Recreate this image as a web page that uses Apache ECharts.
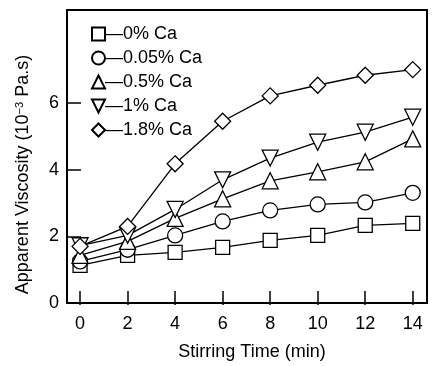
<!DOCTYPE html>
<html>
<head>
<meta charset="utf-8">
<script src="https://cdn.jsdelivr.net/npm/echarts@6/dist/echarts.min.js"></script>
<style>
  html, body { margin: 0; padding: 0; background: #fff; }
  #chart { width: 434px; height: 366px; }
</style>
</head>
<body>
<div id="chart"></div>
<script>
const FONT = '"Liberation Sans", Arial, sans-serif';

const stirTime = [0, 2, 4, 6, 8, 10, 12, 14];
const seriesNames = ["0% Ca", "0.05% Ca", "0.5% Ca", "1% Ca", "1.8% Ca"];
const ca0 = [1.13, 1.43, 1.52, 1.67, 1.88, 2.03, 2.33, 2.39];
const ca005 = [1.25, 1.6, 2.03, 2.45, 2.78, 2.96, 3.02, 3.31];
const ca05 = [1.43, 1.85, 2.54, 3.13, 3.67, 3.94, 4.24, 4.93];
const ca1 = [1.72, 2.03, 2.81, 3.7, 4.35, 4.83, 5.13, 5.58];
const ca18 = [1.7, 2.3, 4.18, 5.46, 6.22, 6.54, 6.84, 7.01];
const yTicks = [0, 2, 4, 6];
const xTicks = [0, 2, 4, 6, 8, 10, 12, 14];

const symbols = [
  "rect",
  "circle",
  "triangle",
  "path://M0,0L10,0L5,10Z",
  "diamond",
];
const symbolSizes = [14, 15, 16, 16, 16];
const values = [ca0, ca005, ca05, ca1, ca18];

const X_MIN = -0.55;
const X_MAX = 14.6;
const Y_MAX = 8.8;

// grid box: left 67, top 10, right edge 427, bottom edge 305
const GRID_W = 360;
const GRID_H = 295;

const frameLine = { show: true, onZero: false, lineStyle: { color: "#000", width: 2 } };
const tickStyle = { color: "#000", width: 1.5 };

const chart = echarts.init(document.getElementById("chart"));

chart.setOption({
  animation: false,
  backgroundColor: "#fff",
  grid: {
    left: 67,
    top: 10,
    right: 7,
    bottom: 61,
  },
  legend: {
    left: 86,
    top: 20,
    orient: "vertical",
    itemWidth: 13,
    itemHeight: 13,
    itemGap: 6,
    data: seriesNames.map((name, i) => ({ name, icon: symbols[i] })),
    formatter: (name) => "\u2014" + name,
    textStyle: { fontFamily: FONT, fontSize: 18, color: "#000", padding: [0, 0, 0, -5] },
  },
  xAxis: [
    {
      type: "value",
      position: "bottom",
      min: X_MIN,
      max: X_MAX,
      name: "Stirring Time (min)",
      nameLocation: "middle",
      nameGap: 40,
      nameTextStyle: { fontFamily: FONT, fontSize: 18, color: "#000", padding: [0, 0, 0, 10] },
      axisLine: frameLine,
      splitLine: { show: false },
      axisTick: {
        show: true,
        inside: true,
        length: 12,
        customValues: xTicks,
        lineStyle: tickStyle,
      },
      axisLabel: {
        customValues: xTicks,
        margin: 12,
        fontFamily: FONT,
        fontSize: 18,
        color: "#000",
      },
    },
    {
      type: "value",
      position: "top",
      min: X_MIN,
      max: X_MAX,
      axisLine: frameLine,
      axisTick: { show: false },
      axisLabel: { show: false },
      splitLine: { show: false },
    },
    {
      // tick-only axis sitting on the bottom edge, ticks pointing up into the plot
      type: "value",
      position: "top",
      offset: -GRID_H,
      min: X_MIN,
      max: X_MAX,
      axisLine: { show: false, onZero: false },
      axisTick: { show: true, length: 12, customValues: xTicks, lineStyle: tickStyle },
      axisLabel: { show: false },
      splitLine: { show: false },
    },
  ],
  yAxis: [
    {
      type: "value",
      position: "left",
      min: 0,
      max: Y_MAX,
      name: "Apparent Viscosity (10{sup|\u22123} Pa.s)",
      nameLocation: "middle",
      nameGap: 34,
      nameTextStyle: {
        fontFamily: FONT,
        fontSize: 18,
        color: "#000",
        padding: [0, 36, 0, 0],
        rich: {
          sup: { fontFamily: FONT, fontSize: 11, color: "#000", verticalAlign: "top", padding: [0, 0, 8, 0] },
        },
      },
      axisLine: frameLine,
      splitLine: { show: false },
      axisTick: {
        show: true,
        inside: true,
        length: 14,
        customValues: yTicks,
        lineStyle: tickStyle,
      },
      axisLabel: {
        customValues: yTicks,
        margin: 8,
        fontFamily: FONT,
        fontSize: 18,
        color: "#000",
      },
    },
    {
      type: "value",
      position: "right",
      min: 0,
      max: Y_MAX,
      axisLine: frameLine,
      axisTick: { show: false },
      axisLabel: { show: false },
      splitLine: { show: false },
    },
    {
      // tick-only axis sitting on the left edge, ticks pointing right into the plot
      type: "value",
      position: "right",
      offset: -GRID_W,
      min: 0,
      max: Y_MAX,
      axisLine: { show: false, onZero: false },
      axisTick: { show: true, length: 14, customValues: yTicks, lineStyle: tickStyle },
      axisLabel: { show: false },
      splitLine: { show: false },
    },
  ],
  series: seriesNames.map((name, i) => ({
    name,
    type: "line",
    xAxisIndex: 0,
    yAxisIndex: 0,
    data: stirTime.map((t, j) => [t, values[i][j]]),
    symbol: symbols[i],
    symbolSize: symbolSizes[i],
    showAllSymbol: true,
    lineStyle: { color: "#000", width: 1.3 },
    itemStyle: { color: "#fff", borderColor: "#000", borderWidth: 1.3 },
    emphasis: { disabled: true },
    z: 2 + i,
  })),
});
</script>
</body>
</html>
